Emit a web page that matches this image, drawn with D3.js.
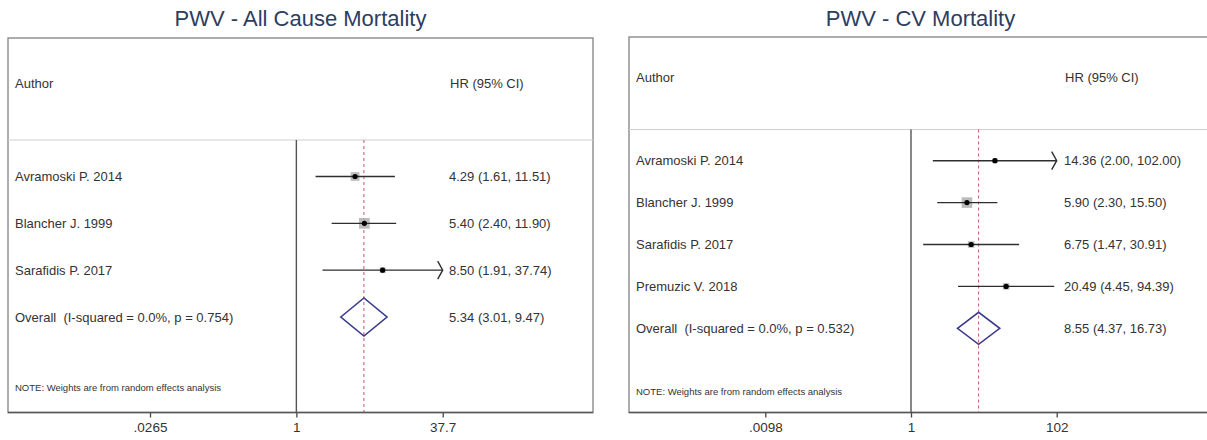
<!DOCTYPE html>
<html>
<head>
<meta charset="utf-8">
<script src="https://cdn.jsdelivr.net/npm/d3@7"></script>
<style>
  html, body { margin: 0; padding: 0; background: #ffffff; }
  svg { display: block; font-family: "Liberation Sans", Arial, sans-serif; }
  svg text { white-space: pre; }
</style>
</head>
<body>
<svg id="chart" width="1207" height="440"></svg>
<script>
// ---------- Data: PWV - All Cause Mortality ----------
const allTitle = "PWV - All Cause Mortality";
const allStudies = ["Avramoski P. 2014", "Blancher J. 1999", "Sarafidis P. 2017"];
const allHR = [4.29, 5.40, 8.50];
const allLow = [1.61, 2.40, 1.91];
const allHigh = [11.51, 11.90, 37.74];
const allWeight = [34, 51, 15];
const allOverall = [5.34, 3.01, 9.47];
const allOverallLabel = "Overall  (I-squared = 0.0%, p = 0.754)";
const allTicks = [0.0265, 1, 37.7];
const allTickLabels = [".0265", "1", "37.7"];

// ---------- Data: PWV - CV Mortality ----------
const cvTitle = "PWV - CV Mortality";
const cvStudies = ["Avramoski P. 2014", "Blancher J. 1999", "Sarafidis P. 2017", "Premuzic V. 2018"];
const cvHR = [14.36, 5.90, 6.75, 20.49];
const cvLow = [2.00, 2.30, 1.47, 4.45];
const cvHigh = [102.00, 15.50, 30.91, 94.39];
const cvWeight = [12, 50, 19, 19];
const cvOverall = [8.55, 4.37, 16.73];
const cvOverallLabel = "Overall  (I-squared = 0.0%, p = 0.532)";
const cvTicks = [0.0098, 1, 102];
const cvTickLabels = [".0098", "1", "102"];

const headerAuthor = "Author";
const headerHR = "HR (95% CI)";
const noteText = "NOTE: Weights are from random effects analysis";

const svg = d3.select("#chart");
const textColor = "#333333";

function drawPanel(cfg) {
  const g = svg.append("g");
  const x = d3.scaleLog().domain([cfg.ticks[0], cfg.ticks[cfg.ticks.length - 1]]).range(cfg.xRange);
  const nRows = cfg.studies.length + 1;
  const y = d3.scaleLinear().domain([0, nRows - 1]).range([cfg.firstRowY, cfg.overallY]);

  // title
  g.append("text").attr("x", (cfg.left + cfg.right) / 2).attr("y", cfg.titleY)
    .attr("text-anchor", "middle").attr("font-size", 22).attr("fill", "#2c3d62")
    .text(cfg.title);

  // frame
  g.append("rect").attr("x", cfg.left).attr("y", cfg.top)
    .attr("width", cfg.right - cfg.left).attr("height", cfg.axisY - cfg.top)
    .attr("fill", "none").attr("stroke", "#8a8a8a").attr("stroke-width", 1.4);

  // header separator
  g.append("line").attr("x1", cfg.left).attr("x2", cfg.right)
    .attr("y1", cfg.headerY).attr("y2", cfg.headerY)
    .attr("stroke", "#cfcfcf").attr("stroke-width", 1.2);

  // header texts
  g.append("text").attr("x", cfg.left + 7).attr("y", cfg.headerTextY).attr("dy", "0.35em")
    .attr("font-size", 13).attr("fill", textColor).text(headerAuthor);
  g.append("text").attr("x", cfg.valueX + 1).attr("y", cfg.headerTextY).attr("dy", "0.35em")
    .attr("font-size", 13).attr("fill", textColor).text(headerHR);

  // null line at 1
  g.append("line").attr("x1", x(1)).attr("x2", x(1))
    .attr("y1", cfg.headerY).attr("y2", cfg.axisY)
    .attr("stroke", "#555555").attr("stroke-width", 1.4);

  // overall dashed line
  g.append("line").attr("x1", x(cfg.overall[0])).attr("x2", x(cfg.overall[0]))
    .attr("y1", cfg.headerY).attr("y2", cfg.axisY)
    .attr("stroke", "#c2566a").attr("stroke-width", 1).attr("stroke-dasharray", "3,3");

  const boxSize = d3.scaleSqrt().domain([0, 100]).range([0, 15]);
  const xMax = cfg.ticks[cfg.ticks.length - 1];
  const xMin = cfg.ticks[0];

  cfg.studies.forEach((name, i) => {
    const yy = y(i);
    const lo = Math.max(cfg.low[i], xMin), hi = Math.min(cfg.high[i], xMax);
    g.append("text").attr("x", cfg.left + 7).attr("y", yy).attr("dy", "0.35em")
      .attr("font-size", 13).attr("fill", textColor).text(name);
    // weight box
    const s = boxSize(cfg.weight[i]);
    g.append("rect").attr("x", x(cfg.hr[i]) - s / 2).attr("y", yy - s / 2)
      .attr("width", s).attr("height", s).attr("fill", "#b0b0b0").attr("opacity", 0.85);
    // CI line
    g.append("line").attr("x1", x(lo)).attr("x2", x(hi)).attr("y1", yy).attr("y2", yy)
      .attr("stroke", "#2e2e2e").attr("stroke-width", 1.4);
    if (cfg.high[i] >= xMax) {
      g.append("path")
        .attr("d", `M${x(hi) - 5},${yy - 9} L${x(hi)},${yy} L${x(hi) - 5},${yy + 9}`)
        .attr("fill", "none").attr("stroke", "#2e2e2e").attr("stroke-width", 1.4);
    }
    g.append("circle").attr("cx", x(cfg.hr[i])).attr("cy", yy).attr("r", 2.6).attr("fill", "#000");
    g.append("text").attr("x", cfg.valueX).attr("y", yy).attr("dy", "0.35em")
      .attr("font-size", 13).attr("fill", textColor)
      .text(`${cfg.hr[i].toFixed(2)} (${cfg.low[i].toFixed(2)}, ${cfg.high[i].toFixed(2)})`);
  });

  // overall
  const oy = y(nRows - 1);
  g.append("text").attr("x", cfg.left + 7).attr("y", oy).attr("dy", "0.35em")
    .attr("font-size", 13).attr("fill", textColor).text(cfg.overallLabel);
  const [oh, ol, ou] = cfg.overall;
  g.append("path")
    .attr("d", `M${x(ol)},${oy} L${x(oh)},${oy - cfg.diamondH} L${x(ou)},${oy} L${x(oh)},${oy + cfg.diamondH} Z`)
    .attr("fill", "none").attr("stroke", "#3a3a8c").attr("stroke-width", 1.6);
  g.append("text").attr("x", cfg.valueX).attr("y", oy).attr("dy", "0.35em")
    .attr("font-size", 13).attr("fill", textColor)
    .text(`${oh.toFixed(2)} (${ol.toFixed(2)}, ${ou.toFixed(2)})`);

  // note
  g.append("text").attr("x", cfg.left + 7).attr("y", cfg.noteY).attr("dy", "0.35em")
    .attr("font-size", 9.5).attr("fill", textColor).text(noteText);

  // axis
  const axis = d3.axisBottom(x).tickValues(cfg.ticks)
    .tickFormat((d, i) => cfg.tickLabels[i]).tickSize(5).tickSizeOuter(0);
  const ag = g.append("g").attr("transform", `translate(0,${cfg.axisY})`).call(axis);
  ag.select(".domain").remove();
  ag.selectAll(".tick line").attr("stroke", "#444").attr("stroke-width", 1.3);
  ag.selectAll(".tick text").attr("font-size", 13.5).attr("fill", textColor)
    .attr("font-family", "Liberation Sans, Arial, sans-serif").attr("y", 10);
  g.append("line").attr("x1", cfg.left).attr("x2", cfg.right)
    .attr("y1", cfg.axisY).attr("y2", cfg.axisY)
    .attr("stroke", "#555").attr("stroke-width", 1.4);
}

drawPanel({
  title: allTitle, studies: allStudies, hr: allHR, low: allLow, high: allHigh, weight: allWeight,
  overall: allOverall, overallLabel: allOverallLabel, ticks: allTicks, tickLabels: allTickLabels,
  left: 8, right: 593, top: 38, headerY: 140, axisY: 412.5, titleY: 26,
  headerTextY: 83, firstRowY: 176.5, overallY: 317, noteY: 388,
  xRange: [150, 442.7], valueX: 449, diamondH: 19
});

drawPanel({
  title: cvTitle, studies: cvStudies, hr: cvHR, low: cvLow, high: cvHigh, weight: cvWeight,
  overall: cvOverall, overallLabel: cvOverallLabel, ticks: cvTicks, tickLabels: cvTickLabels,
  left: 629, right: 1212, top: 37, headerY: 129.5, axisY: 412.5, titleY: 26,
  headerTextY: 77, firstRowY: 160.7, overallY: 328.3, noteY: 392,
  xRange: [765.3, 1056.7], valueX: 1064, diamondH: 16
});
</script>
</body>
</html>
